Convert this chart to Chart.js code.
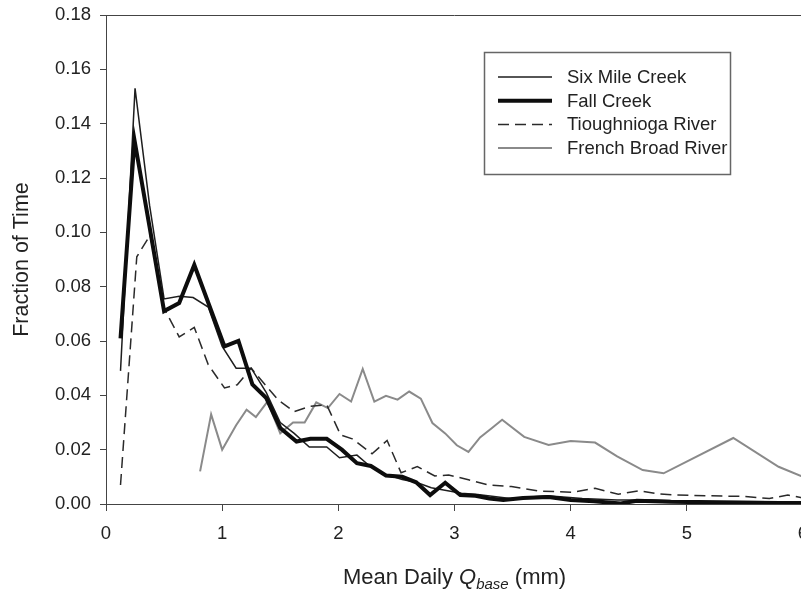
<!DOCTYPE html>
<html><head><meta charset="utf-8">
<script src="https://cdn.jsdelivr.net/npm/chart.js@4/dist/chart.umd.min.js"></script>
<style>
html,body{margin:0;padding:0;background:#fff;overflow:hidden}
#wrap{width:801px;height:591px;overflow:hidden;position:relative;background:#fff}
canvas{display:block}
</style>
</head><body>
<div id="wrap"><canvas id="c" width="806" height="591"></canvas></div>
<script>
// ---- data ----
const seriesNames = ["Six Mile Creek", "Fall Creek", "Tioughnioga River", "French Broad River"];

const sixMileX = [0.125,0.25,0.375,0.50,0.63,0.75,0.88,1.00,1.12,1.25,1.38,1.50,1.62,1.75,1.90,2.01,2.16,2.27,2.40,2.55,2.67,2.80,2.93,3.06,3.20,3.48,3.80,4.10,4.40,4.70,5.00,5.40,5.80,6.00];
const sixMileY = [0.049,0.153,0.110,0.0755,0.0765,0.076,0.0725,0.058,0.050,0.050,0.041,0.030,0.026,0.021,0.021,0.017,0.018,0.014,0.011,0.009,0.008,0.006,0.005,0.004,0.0035,0.002,0.003,0.002,0.0015,0.0015,0.001,0.001,0.0008,0.0008];

const fallX = [0.125,0.245,0.375,0.50,0.63,0.76,0.89,1.02,1.14,1.26,1.38,1.50,1.64,1.76,1.90,2.03,2.16,2.28,2.41,2.55,2.67,2.79,2.92,3.05,3.18,3.30,3.42,3.59,3.81,4.00,4.20,4.43,4.57,4.86,5.10,5.40,5.70,6.00];
const fallY = [0.061,0.134,0.102,0.071,0.074,0.088,0.073,0.058,0.060,0.044,0.039,0.028,0.023,0.024,0.024,0.020,0.015,0.014,0.0105,0.010,0.008,0.0033,0.0078,0.0033,0.003,0.002,0.0015,0.0022,0.0026,0.0015,0.001,0.0002,0.0012,0.0008,0.0007,0.0005,0.0004,0.0003];

const tioughX = [0.125,0.265,0.38,0.50,0.63,0.76,0.88,1.02,1.13,1.25,1.37,1.48,1.62,1.76,1.90,2.02,2.12,2.29,2.42,2.54,2.68,2.83,2.95,3.12,3.29,3.49,3.72,4.01,4.21,4.41,4.59,4.76,4.90,5.20,5.50,5.71,5.87,6.00];
const tioughY = [0.007,0.091,0.099,0.072,0.0615,0.065,0.0513,0.0427,0.0439,0.050,0.0439,0.0384,0.034,0.036,0.0365,0.0254,0.024,0.0185,0.0234,0.0115,0.0138,0.0103,0.0107,0.0089,0.007,0.0064,0.0048,0.0043,0.0058,0.0036,0.0049,0.0037,0.0033,0.003,0.0028,0.002,0.0033,0.0022];

const frenchX = [0.81,0.905,1.00,1.12,1.21,1.29,1.39,1.50,1.61,1.71,1.81,1.91,2.01,2.11,2.21,2.31,2.41,2.51,2.61,2.71,2.81,2.92,3.02,3.12,3.22,3.32,3.41,3.60,3.81,4.00,4.21,4.40,4.62,4.80,5.40,5.79,6.00];
const frenchY = [0.012,0.033,0.020,0.029,0.0347,0.032,0.0377,0.026,0.030,0.030,0.0374,0.0353,0.0405,0.0377,0.0497,0.0377,0.0398,0.0384,0.0414,0.0388,0.0298,0.026,0.0216,0.0192,0.0245,0.0279,0.031,0.0247,0.0217,0.0232,0.0226,0.0175,0.0125,0.0113,0.0243,0.0137,0.010];

const xTickValues = [0,1,2,3,4,5,6];
const yTickValues = [0,0.02,0.04,0.06,0.08,0.10,0.12,0.14,0.16,0.18];
const yAxisTitle = "Fraction of Time";
const xAxisTitleParts = ["Mean Daily ", "Q", "base", " (mm)"];

function pts(xs, ys){ return xs.map((x,i)=>({x:x, y:ys[i]})); }

const FONT = '"Liberation Sans", Arial, sans-serif';

const framePlugin = {
  id:'frame',
  afterDraw(chart){
    const ctx = chart.ctx, a = chart.chartArea;
    ctx.save();
    ctx.strokeStyle = '#444'; ctx.lineWidth = 1;
    ctx.beginPath();
    ctx.moveTo(a.left, Math.round(a.top)+0.5);
    ctx.lineTo(a.right, Math.round(a.top)+0.5);
    ctx.lineTo(a.right, a.bottom);
    ctx.stroke();
    ctx.restore();
  }
};

const legendPlugin = {
  id:'boxLegend',
  afterDraw(chart){
    const ctx = chart.ctx;
    const bx = 484.5, by = 52.5, bw = 246, bh = 122;
    ctx.save();
    ctx.fillStyle = '#fff'; ctx.fillRect(bx,by,bw,bh);
    ctx.strokeStyle = '#666'; ctx.lineWidth = 1.5; ctx.strokeRect(bx,by,bw,bh);
    chart.data.datasets.forEach((ds,i)=>{
      const y = 77 + i*23.7;
      ctx.beginPath();
      ctx.setLineDash(ds.borderDash || []);
      ctx.strokeStyle = ds.borderColor; ctx.lineWidth = ds.borderWidth;
      ctx.moveTo(498, y); ctx.lineTo(552, y); ctx.stroke();
      ctx.setLineDash([]);
      ctx.fillStyle = '#222';
      ctx.font = '18.5px ' + FONT;
      ctx.textBaseline = 'middle'; ctx.textAlign = 'left';
      ctx.fillText(ds.label, 567, y + 1);
    });
    ctx.restore();
  }
};

const xTitlePlugin = {
  id:'xTitle',
  afterDraw(chart){
    const ctx = chart.ctx, a = chart.chartArea;
    const main = '22px ' + FONT, ital = 'italic 22px ' + FONT, sub = 'italic 15px ' + FONT;
    const p = xAxisTitleParts;
    ctx.save();
    ctx.font = main; const w0 = ctx.measureText(p[0]).width, w3 = ctx.measureText(p[3]).width;
    ctx.font = ital; const w1 = ctx.measureText(p[1]).width;
    ctx.font = sub; const w2 = ctx.measureText(p[2]).width;
    const total = w0+w1+w2+w3;
    let x = (a.left + a.right)/2 - total/2;
    const base = 584;
    ctx.fillStyle = '#222'; ctx.textBaseline = 'alphabetic'; ctx.textAlign = 'left';
    ctx.font = main; ctx.fillText(p[0], x, base); x += w0;
    ctx.font = ital; ctx.fillText(p[1], x, base); x += w1;
    ctx.font = sub; ctx.fillText(p[2], x, base + 5); x += w2;
    ctx.font = main; ctx.fillText(p[3], x, base);
    ctx.restore();
  }
};

new Chart(document.getElementById('c'), {
  type:'line',
  data:{
    datasets:[
      {label:seriesNames[0], data:pts(sixMileX,sixMileY), borderColor:'#1e1e1e', borderWidth:1.5, order:1},
      {label:seriesNames[1], data:pts(fallX,fallY), borderColor:'#0d0d0d', borderWidth:4, order:0},
      {label:seriesNames[2], data:pts(tioughX,tioughY), borderColor:'#2a2a2a', borderWidth:1.5, borderDash:[11,6], order:2},
      {label:seriesNames[3], data:pts(frenchX,frenchY), borderColor:'#8a8a8a', borderWidth:2, order:3}
    ]
  },
  options:{
    responsive:false, animation:false, devicePixelRatio:1,
    layout:{padding:{top:15,right:3,left:0,bottom:0}},
    elements:{point:{radius:0}, line:{tension:0, borderCapStyle:'butt', borderJoinStyle:'miter'}},
    plugins:{legend:{display:false}, tooltip:{enabled:false}},
    scales:{
      x:{
        type:'linear', min:0, max:6,
        afterBuildTicks(s){ s.ticks = xTickValues.map(v=>({value:v})); },
        afterFit(s){ s.height = 87; s.paddingLeft = 0; s.paddingRight = 0; },
        ticks:{font:{family:FONT, size:18.5}, color:'#222', padding:12, maxRotation:0, autoSkip:false},
        grid:{display:true, drawOnChartArea:false, drawTicks:true, tickLength:7, color:'#444'},
        border:{display:true, color:'#444', width:1}
      },
      y:{
        min:0, max:0.18,
        afterBuildTicks(s){ s.ticks = yTickValues.map(v=>({value:v})); },
        afterFit(s){ s.width = 106; s.paddingTop = 0; s.paddingBottom = 0; },
        ticks:{font:{family:FONT, size:18.5}, color:'#222', padding:9, callback:v=>Number(v).toFixed(2), autoSkip:false},
        grid:{display:true, drawOnChartArea:false, drawTicks:true, tickLength:6, color:'#444'},
        border:{display:true, color:'#444', width:1},
        title:{display:true, text:yAxisTitle, color:'#222', font:{family:FONT, size:21.5}, padding:{top:9,bottom:0}}
      }
    }
  },
  plugins:[framePlugin, legendPlugin, xTitlePlugin]
});
</script>
</body></html>
